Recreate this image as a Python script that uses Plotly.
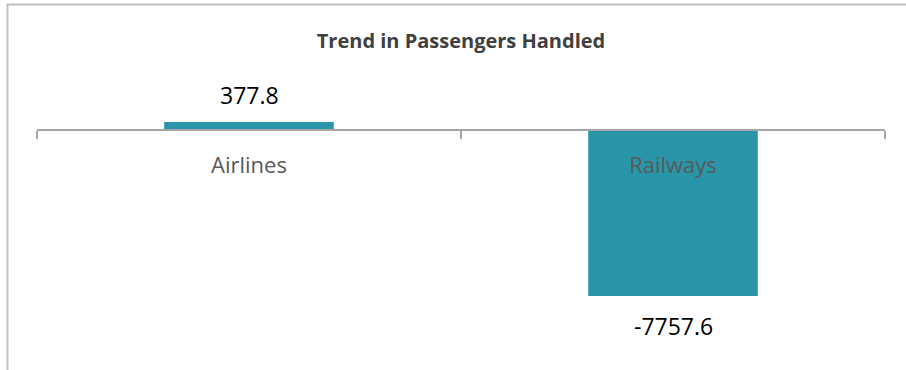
import plotly.graph_objects as go

# Passenger trend data
categories = ["Airlines", "Railways"]
values = [377.8, -7757.6]
value_labels = ["377.8", "-7757.6"]

BAR_COLOR = "#2896A8"
W, H = 906, 370
M_L, M_R, M_T, M_B = 37, 21, 60, 10
Y_RANGE = [-10750, 3271]

fig = go.Figure(
    go.Bar(
        x=categories,
        y=values,
        width=0.4,
        marker=dict(color=BAR_COLOR, line=dict(width=0)),
        hoverinfo="skip",
    )
)

# value labels above / below each bar
for cat, val, lab in zip(categories, values, value_labels):
    fig.add_annotation(
        x=cat, y=val, xref="x", yref="y",
        text=lab, showarrow=False,
        yanchor="middle",
        yshift=27 if val >= 0 else -30,
        font=dict(family="Open Sans", size=23, color="#000000"),
    )

# category axis sits on the zero line
zero_pos = (0 - Y_RANGE[0]) / (Y_RANGE[1] - Y_RANGE[0])

# outer chart border (left and top edges visible)
plot_w = W - M_L - M_R
plot_h = H - M_T - M_B
bx0 = (7.5 - M_L) / plot_w
by1 = (H - M_B - 4.5) / plot_h
fig.add_shape(
    type="rect", xref="paper", yref="paper",
    x0=bx0, x1=1.2, y0=-0.2, y1=by1,
    line=dict(color="#BFBFBF", width=2),
    layer="below",
)

fig.update_layout(
    width=W, height=H,
    margin=dict(l=M_L, r=M_R, t=M_T, b=M_B),
    paper_bgcolor="white",
    plot_bgcolor="white",
    showlegend=False,
    title=dict(
        text="<b>Trend in Passengers Handled</b>",
        x=0.5, xref="paper", xanchor="center",
        y=1 - 41 / H, yref="container", yanchor="middle",
        font=dict(family="Open Sans", size=20, color="#404040"),
    ),
    xaxis=dict(
        type="category",
        range=[-0.5, 1.5],
        anchor="free",
        position=zero_pos,
        showline=True,
        linecolor="#A6A6A6",
        linewidth=1.5,
        ticks="outside",
        tickson="boundaries",
        ticklen=8,
        tickwidth=1.5,
        tickcolor="#A6A6A6",
        ticklabelstandoff=16,
        tickfont=dict(family="Open Sans", size=22, color="#595959"),
        showgrid=False,
        zeroline=False,
        fixedrange=True,
    ),
    yaxis=dict(
        range=Y_RANGE,
        visible=False,
        showgrid=False,
        zeroline=False,
        fixedrange=True,
    ),
)

fig.write_html("out.html")
